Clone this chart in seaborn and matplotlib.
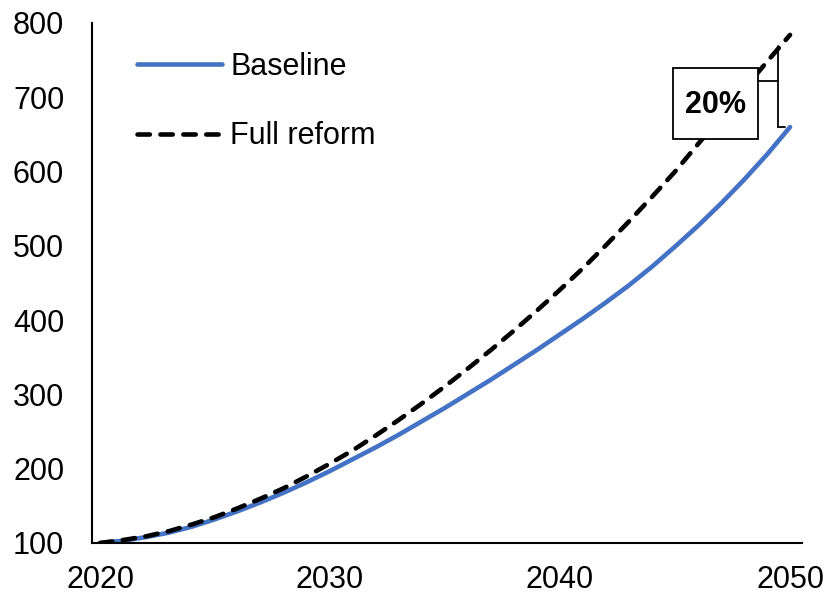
import pandas as pd
import matplotlib
matplotlib.use("Agg")
import matplotlib.pyplot as plt
import seaborn as sns
from matplotlib.patches import Rectangle

# data (index, 2020 = 100)
years = list(range(2020, 2051))
baseline = [100, 103, 108, 114, 122, 132, 143, 155, 168, 182,
            197, 213, 229, 246, 264, 282, 301, 320, 340, 360,
            381, 402, 424, 447, 472, 499, 527, 557, 589, 623, 660]
full_reform = [100, 104, 109, 116, 125, 135, 147, 160, 174, 190,
               207, 225, 245, 266, 288, 311, 335, 360, 386, 413,
               441, 470, 501, 533, 566, 600, 637, 674, 711, 748, 784]
gap_label = "20%"

df = pd.DataFrame({"year": years, "Baseline": baseline, "Full reform": full_reform})

sns.set_style("white")
plt.rcParams["font.family"] = ["Liberation Sans", "DejaVu Sans"]
plt.rcParams["text.color"] = "black"
plt.rcParams["xtick.color"] = "black"
plt.rcParams["ytick.color"] = "black"

fig = plt.figure(figsize=(8.28, 5.97), dpi=100)
ax = fig.add_axes([92 / 828, 54 / 597, 710 / 828, 520 / 597])

sns.lineplot(data=df, x="year", y="Baseline", ax=ax, color="#4472C4",
             linewidth=3.3, label="Baseline", solid_capstyle="round")
sns.lineplot(data=df, x="year", y="Full reform", ax=ax, color="black",
             linewidth=3.3, linestyle=(0, (2.7, 2.3)), dash_capstyle="round",
             label="Full reform")

ax.set_xlim(2019.65, 2050.52)
ax.set_ylim(100, 800)
ax.set_xticks([2020, 2030, 2040, 2050])
ax.set_yticks(range(100, 801, 100))
ax.set_xlabel("")
ax.set_ylabel("")
ax.tick_params(axis="y", direction="in", length=7, width=1.5, labelsize=22, pad=20)
ax.tick_params(axis="x", length=0, labelsize=22, pad=16)
sns.despine(ax=ax)
for side in ["left", "bottom"]:
    ax.spines[side].set_color("black")
    ax.spines[side].set_linewidth(1.5)

leg = ax.legend(loc="upper left", bbox_to_anchor=(0.063, 0.945), frameon=False,
                fontsize=22, handlelength=2.8, handletextpad=0.26,
                labelspacing=1.3, borderpad=0, borderaxespad=0)

# gap bracket at 2050
x_end = years[-1]
top = full_reform[-1] - 15
bottom = baseline[-1]
ax.plot([x_end - 0.52, x_end - 0.52], [bottom, top], color="black", lw=1.3, zorder=4)
ax.plot([x_end - 0.52, x_end - 0.2], [bottom, bottom], color="black", lw=1.3, zorder=4)
ax.plot([x_end - 1.39, x_end - 0.52], [722, 722], color="black", lw=1.3, zorder=4)
ax.add_patch(Rectangle((2044.9, 644), 3.7, 95, facecolor="white",
                       edgecolor="black", lw=1.3, zorder=5))
ax.text(2046.75, 690, gap_label, ha="center", va="center", fontsize=22,
        fontweight="bold", zorder=6)

fig.savefig("out.png", dpi=100)
